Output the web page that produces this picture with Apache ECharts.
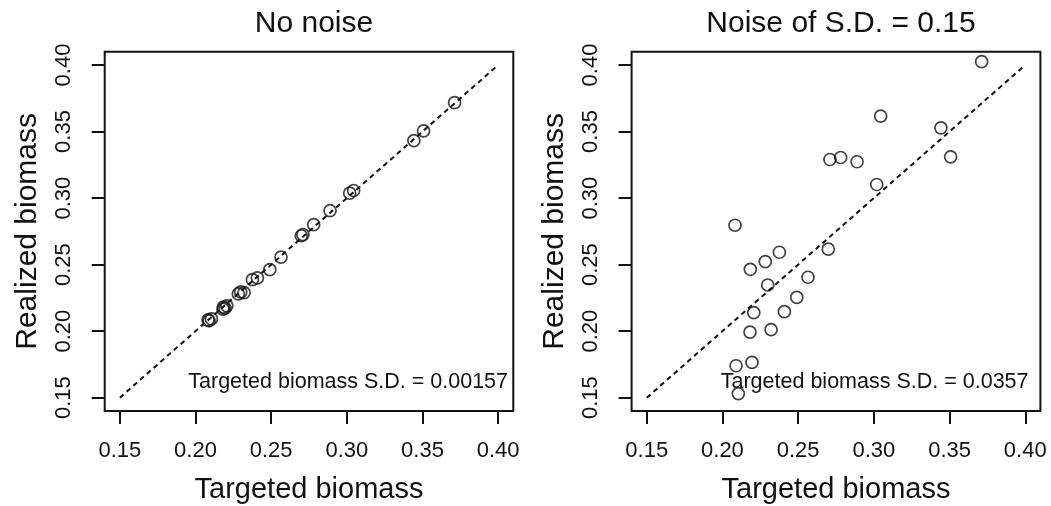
<!DOCTYPE html>
<html>
<head>
<meta charset="utf-8">
<script src="https://cdn.jsdelivr.net/npm/echarts@6/dist/echarts.min.js"></script>
<style>
html,body{margin:0;padding:0;background:#fff;}
#chart{width:1051px;height:506px;}
</style>
</head>
<body>
<div id="chart"></div>
<script>
// Targeted biomass (shared by both panels)
const targeted = [0.2083, 0.2090, 0.2105, 0.2182, 0.2184, 0.2195, 0.2207, 0.2283, 0.2299, 0.2321,
  0.2376, 0.2409, 0.2491, 0.2565, 0.2699, 0.2710, 0.2781, 0.2889, 0.3019, 0.3045,
  0.3443, 0.3507, 0.3712];
// Realized biomass, no noise
const realizedNoNoise = [0.2085, 0.2078, 0.2092, 0.2165, 0.2180, 0.2172, 0.2190, 0.2280, 0.2295, 0.2290,
  0.2387, 0.2400, 0.2462, 0.2557, 0.2717, 0.2725, 0.2800, 0.2905, 0.3037, 0.3057,
  0.3432, 0.3505, 0.3717];
// Realized biomass, noise S.D. = 0.15
const realizedNoise = [0.2796, 0.1740, 0.1530, 0.1993, 0.2465, 0.1765, 0.2139, 0.2523, 0.2347, 0.2011,
  0.2593, 0.2147, 0.2254, 0.2405, 0.2616, 0.3290, 0.3305, 0.3273, 0.3102, 0.3616,
  0.3528, 0.3310, 0.4025];
const tickValues = [0.15, 0.20, 0.25, 0.30, 0.35, 0.40];
const identityEnds = [0.15, 0.40];
const panelTitles = ['No noise', 'Noise of S.D. = 0.15'];
const sdLabels = ['Targeted biomass S.D. = 0.00157', 'Targeted biomass S.D. = 0.0357'];
const xName = 'Targeted biomass';
const yName = 'Realized biomass';

const FONT = '"Liberation Sans", Arial, sans-serif';
const INK = '#111';

const grids = [
  {left: 104.7, top: 51.7, width: 408.6, height: 359.3},
  {left: 631.6, top: 51.7, width: 408.8, height: 359.3}
];

function axisCommon(i) {
  return {
    gridIndex: i, type: 'value', min: 0.14, max: 0.41,
    splitLine: {show: false},
    axisLine: {show: false, onZero: false},
    axisTick: {show: true, customValues: tickValues, length: 13, inside: false,
      lineStyle: {color: INK, width: 2}},
    axisLabel: {customValues: tickValues, formatter: v => v.toFixed(2),
      color: INK, fontSize: 22, fontFamily: FONT},
    nameLocation: 'middle'
  };
}

const xAxes = [0, 1].map(i => {
  const a = axisCommon(i);
  a.position = 'bottom';
  a.name = xName;
  a.nameGap = 64;
  a.nameTextStyle = {color: INK, fontSize: 29, fontFamily: FONT};
  a.axisLabel.margin = 29;
  return a;
});
const yAxes = [0, 1].map(i => {
  const a = axisCommon(i);
  a.position = 'left';
  a.name = yName;
  a.nameGap = 62;
  a.nameRotate = 90;
  a.nameTextStyle = {color: INK, fontSize: 30, fontFamily: FONT};
  a.axisLabel.rotate = 90;
  a.axisLabel.margin = 29.5;
  return a;
});

const realizedSets = [realizedNoNoise, realizedNoise];
const series = [];
[0, 1].forEach(i => {
  series.push({
    type: 'line', xAxisIndex: i, yAxisIndex: i, silent: true,
    data: identityEnds.map(v => [v, v]),
    symbol: 'none',
    lineStyle: {color: INK, width: 2, type: [5, 4]},
    z: 2
  });
  series.push({
    type: 'scatter', xAxisIndex: i, yAxisIndex: i,
    data: targeted.map((t, k) => [t, realizedSets[i][k]]),
    symbol: 'circle', symbolSize: 12,
    itemStyle: {color: 'rgba(0,0,0,0)', borderColor: INK, borderWidth: 1.7},
    z: 3
  });
});

const chart = echarts.init(document.getElementById('chart'), null, {renderer: 'canvas'});
chart.setOption({
  backgroundColor: '#fff',
  animation: false,
  title: [0, 1].map(i => ({
    text: panelTitles[i],
    left: grids[i].left + grids[i].width / 2,
    top: 4,
    textAlign: 'center',
    textStyle: {color: INK, fontSize: 30, fontWeight: 'normal', fontFamily: FONT}
  })),
  grid: grids.map(g => Object.assign({show: true, borderColor: INK, borderWidth: 2,
    backgroundColor: 'transparent', containLabel: false, outerBoundsMode: 'none'}, g)),
  xAxis: xAxes,
  yAxis: yAxes,
  series: series,
  graphic: [0, 1].map(i => ({
    type: 'text',
    x: i === 0 ? 508 : 1028.5,
    y: 382.5,
    style: {text: sdLabels[i], fill: INK, font: '21.5px ' + FONT,
      textAlign: 'right', textVerticalAlign: 'middle'},
    z: 10
  }))
});
</script>
</body>
</html>
